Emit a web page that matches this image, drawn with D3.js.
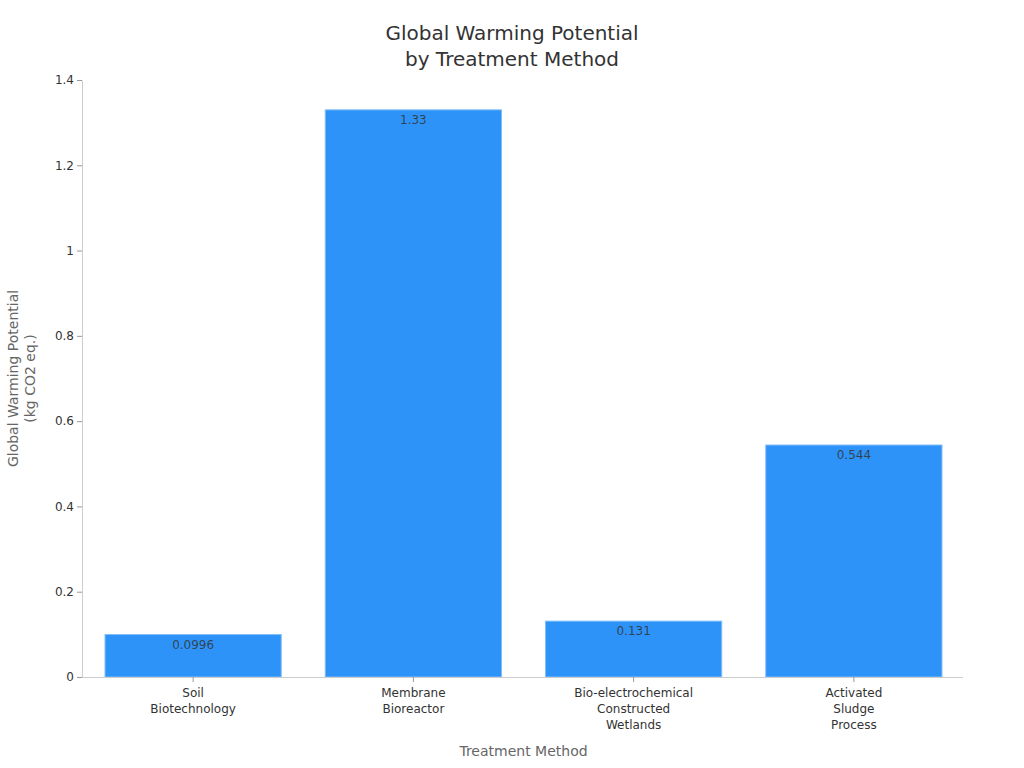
<!DOCTYPE html>
<html><head><meta charset="utf-8">
<script src="https://cdn.jsdelivr.net/npm/d3@7"></script>
<style>body{margin:0;background:#fff;} svg, svg text{font-family:"DejaVu Sans",sans-serif;}</style>
</head><body>
<svg id="c" width="1024" height="768"></svg>
<script>
const categories = [["Soil","Biotechnology"],["Membrane","Bioreactor"],["Bio-electrochemical","Constructed","Wetlands"],["Activated","Sludge","Process"]];
const values = [0.0996, 1.33, 0.131, 0.544];
const valueLabels = ["0.0996","1.33","0.131","0.544"];
const yTicks = [0,0.2,0.4,0.6,0.8,1,1.2,1.4];
const yTickLabels = ["0","0.2","0.4","0.6","0.8","1","1.2","1.4"];

const svg = d3.select("#c");
const m = {l:82, r:963, t:80, b:677};
const keys = categories.map((c,i)=>i);
const x = d3.scaleBand().domain(keys).range([m.l+1,m.r+1]).paddingInner(0.2).paddingOuter(0.1);
const y = d3.scaleLinear().domain([0,1.4]).range([m.b,m.t]);

// axes
const ya = svg.append("g").attr("transform",`translate(${m.l},0)`)
  .call(d3.axisLeft(y).tickValues(yTicks).tickFormat((d,i)=>yTickLabels[i]).tickSize(5).tickSizeOuter(0))
  .attr("font-family","DejaVu Sans");
ya.select(".domain").attr("stroke","#ccc");
ya.selectAll(".tick line").attr("stroke","#999");
ya.selectAll(".tick text").attr("fill","#333").attr("font-size",12);

// bars
svg.append("g").selectAll("rect").data(values).join("rect")
  .attr("x",(d,i)=>x(i)).attr("width",x.bandwidth())
  .attr("y",d=>y(d)).attr("height",d=>y(0)-y(d))
  .attr("fill","#2e93f8").attr("stroke","#7fbdf9").attr("stroke-width",1);

svg.append("g").selectAll("text").data(values).join("text")
  .attr("x",(d,i)=>x(i)+x.bandwidth()/2).attr("y",d=>y(d)+14)
  .attr("text-anchor","middle").attr("font-size",12).attr("fill","#333").attr("fill-opacity",0.85)
  .text((d,i)=>valueLabels[i]);

const xa = svg.append("g").attr("transform",`translate(0,${m.b})`)
  .call(d3.axisBottom(x).tickSize(5).tickSizeOuter(0).tickFormat(""))
  .attr("font-family","DejaVu Sans");
xa.select(".domain").attr("stroke","#ccc").attr("d",`M${m.l},0.5H${m.r}`);
xa.selectAll(".tick line").attr("stroke","#999");
xa.selectAll(".tick").each(function(d){
  const t = d3.select(this).append("text").attr("fill","#333").attr("font-size",12)
    .attr("text-anchor","middle").attr("y",20);
  categories[d].forEach((s,j)=>t.append("tspan").attr("x",0).attr("dy",j?16:0).text(s));
});

// titles
const tt = svg.append("text").attr("x",512).attr("y",40).attr("text-anchor","middle")
  .attr("font-size",20).attr("fill","#333");
tt.append("tspan").attr("x",512).text("Global Warming Potential");
tt.append("tspan").attr("x",512).attr("dy",26).text("by Treatment Method");

svg.append("text").attr("x",(m.l+m.r)/2+1).attr("y",756).attr("text-anchor","middle")
  .attr("font-size",14).attr("fill","#666").text("Treatment Method");

const yt = svg.append("text").attr("transform",`translate(18,${(m.t+m.b)/2}) rotate(-90)`)
  .attr("text-anchor","middle").attr("font-size",14).attr("fill","#666");
yt.append("tspan").attr("x",0).text("Global Warming Potential");
yt.append("tspan").attr("x",0).attr("dy",17).text("(kg CO2 eq.)");
</script>
</body></html>
